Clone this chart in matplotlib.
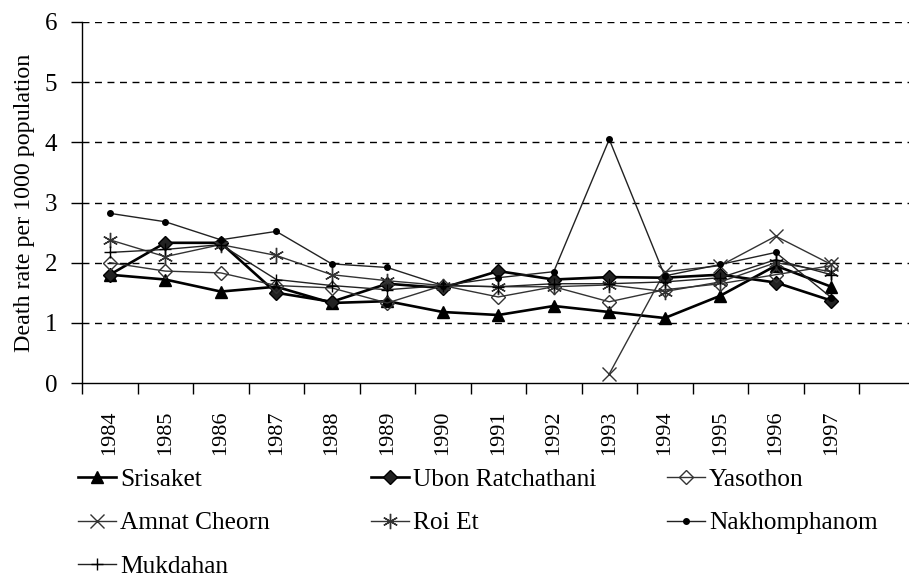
import numpy as np
import matplotlib
matplotlib.use("Agg")
import matplotlib.pyplot as plt
from matplotlib.ticker import FixedLocator, NullFormatter

plt.rcParams['font.family'] = ['Liberation Serif', 'DejaVu Serif']

# Death rate per 1000 population by province, 1984-1997
years = [str(y) for y in range(1984, 1998)]
nan = np.nan
srisaket = [1.80, 1.72, 1.52, 1.60, 1.33, 1.36, 1.18, 1.13, 1.28, 1.18, 1.08, 1.45, 1.95, 1.60]
ubon = [1.80, 2.33, 2.33, 1.50, 1.35, 1.65, 1.58, 1.86, 1.72, 1.76, 1.75, 1.80, 1.67, 1.37]
yasothon = [2.00, 1.86, 1.83, 1.62, 1.58, 1.33, 1.62, 1.43, 1.60, 1.35, 1.55, 1.65, 1.80, 1.95]
amnat = [nan, nan, nan, nan, nan, nan, nan, nan, nan, 0.15, 1.85, 1.95, 2.44, 1.97]
roi_et = [2.38, 2.10, 2.30, 2.12, 1.80, 1.70, 1.62, 1.60, 1.60, 1.63, 1.52, 1.68, 2.00, 1.85]
nakhom = [2.82, 2.68, 2.38, 2.52, 1.98, 1.92, 1.62, 1.75, 1.85, 4.05, 1.78, 1.97, 2.17, 1.42]
mukdahan = [2.17, 2.22, 2.30, 1.72, 1.62, 1.55, 1.62, 1.60, 1.65, 1.65, 1.68, 1.75, 2.05, 1.80]
yticks = [0, 1, 2, 3, 4, 5, 6]

W, H = 909, 578
fig = plt.figure(figsize=(W / 100, H / 100), dpi=100)
ax = fig.add_axes([82 / W, (H - 383) / H, 832.5 / W, (383 - 22) / H])

x = np.arange(len(years))
asterisk = (6, 2, 0)

series = [
    ("Srisaket", srisaket, dict(marker='^', ms=8, mfc='black', mec='black', lw=1.9, color='black')),
    ("Ubon Ratchathani", ubon, dict(marker='D', ms=7, mfc='#222222', mec='black', lw=1.9, color='black')),
    ("Yasothon", yasothon, dict(marker='D', ms=7, mfc='none', mec='#333333', mew=1.0, lw=1.0, color='#333333')),
    ("Amnat Cheorn", amnat, dict(marker='x', ms=10, mec='#333333', mew=1.0, lw=1.0, color='#333333')),
    ("Roi Et", roi_et, dict(marker=asterisk, ms=11, mec='#333333', mew=1.0, lw=1.0, color='#333333')),
    ("Nakhomphanom", nakhom, dict(marker='o', ms=4, mfc='black', mec='black', lw=1.0, color='#222222')),
    ("Mukdahan", mukdahan, dict(marker='+', ms=8, mec='black', mew=1.0, lw=1.0, color='#222222')),
]

handles = {}
for name, vals, style in series:
    ln, = ax.plot(x, vals, label=name, **style)
    handles[name] = ln

ax.set_xlim(-0.5, 14.5)
ax.set_ylim(0, 6)

# Category labels centred in each slot, tick marks on slot boundaries
ax.set_xticks(x)
ax.set_xticklabels(years, rotation=90, fontsize=16)
ax.tick_params(axis='x', which='major', length=0, pad=20)
ax.xaxis.set_minor_locator(FixedLocator(np.arange(15) - 0.5))
ax.xaxis.set_minor_formatter(NullFormatter())
ax.tick_params(axis='x', which='minor', length=8, width=1, direction='out')

ax.set_yticks(yticks)
ax.set_yticklabels([str(v) for v in yticks], fontsize=18)
ax.tick_params(axis='y', length=8, width=1, direction='out', pad=10)

for v in yticks[1:]:
    ax.axhline(v, color='black', lw=1.0, ls=(0, (5, 4)), zorder=0)

for s in ('top', 'right'):
    ax.spines[s].set_visible(False)
ax.spines['left'].set_linewidth(1.0)
ax.spines['bottom'].set_linewidth(1.0)

ax.set_ylabel("Death rate per 1000 population", fontsize=17.3)
ax.yaxis.set_label_coords((35 - 82) / 832.5, 0.5)

# Legend laid out as three columns below the axis
columns = [
    (78, ["Srisaket", "Amnat Cheorn", "Mukdahan"]),
    (371, ["Ubon Ratchathani", "Roi Et"]),
    (667, ["Yasothon", "Nakhomphanom"]),
]
for xpx, names in columns:
    leg = fig.legend([handles[n] for n in names], names, loc='upper left',
                     bbox_to_anchor=(xpx / W, (H - 468) / H), frameon=False,
                     fontsize=18.3, handlelength=1.5, handletextpad=0.15,
                     borderpad=0, borderaxespad=0, labelspacing=0.82)

fig.savefig("out.png", dpi=100)
